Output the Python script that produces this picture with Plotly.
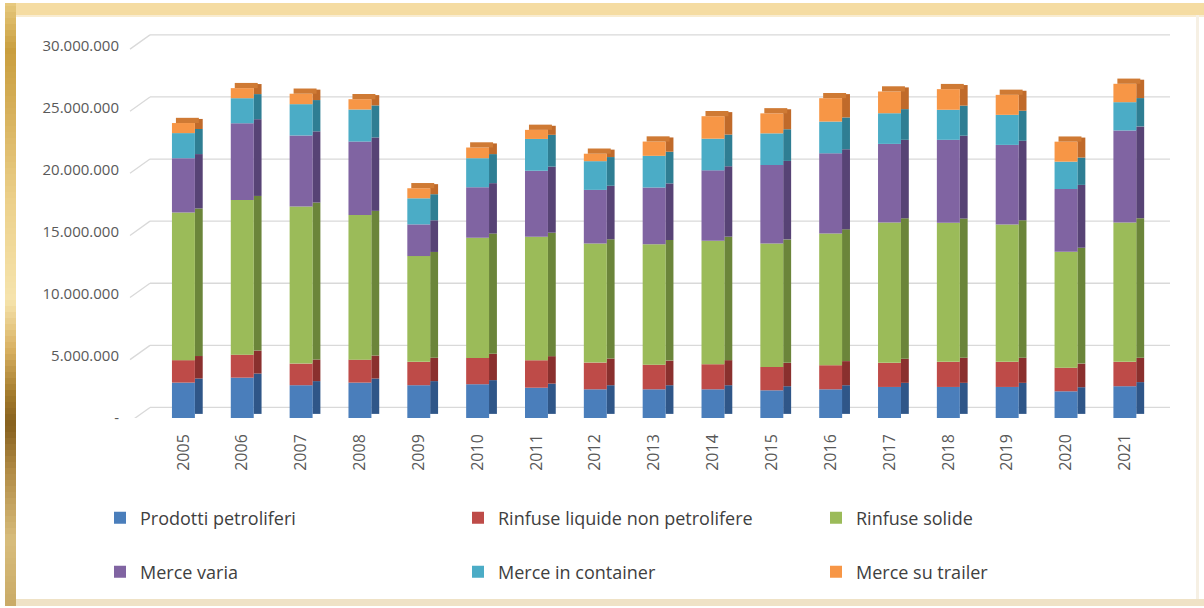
import plotly.graph_objects as go

# ---------------- data (tonnes) ----------------
years = [str(y) for y in range(2005, 2022)]

prodotti_petroliferi = [2850000, 3250000, 2640000, 2850000, 2640000, 2720000, 2440000, 2310000, 2310000,
                        2310000, 2230000, 2310000, 2500000, 2500000, 2500000, 2150000, 2560000]
rinfuse_liquide = [1810000, 1850000, 1740000, 1850000, 1880000, 2120000, 2210000, 2150000, 1980000,
                   2020000, 1880000, 1940000, 1940000, 2020000, 2020000, 1900000, 1960000]
rinfuse_solide = [11880000, 12450000, 12640000, 11650000, 8520000, 9680000, 9940000, 9600000, 9710000,
                  9940000, 9940000, 10610000, 11310000, 11210000, 11070000, 9330000, 11230000]
merce_varia = [4380000, 6180000, 5730000, 5910000, 2550000, 4060000, 5320000, 4310000, 4560000,
               5670000, 6320000, 6450000, 6320000, 6670000, 6400000, 5060000, 7400000]
merce_container = [2020000, 2020000, 2520000, 2580000, 2100000, 2340000, 2560000, 2310000, 2550000,
                   2550000, 2550000, 2560000, 2470000, 2420000, 2420000, 2200000, 2280000]
merce_trailer = [810000, 810000, 840000, 830000, 810000, 860000, 730000, 600000, 1150000,
                 1810000, 1610000, 1880000, 1750000, 1660000, 1610000, 1610000, 1480000]

series_names = ["Prodotti petroliferi", "Rinfuse liquide non petrolifere", "Rinfuse solide",
                "Merce varia", "Merce in container", "Merce su trailer"]
series_values = [prodotti_petroliferi, rinfuse_liquide, rinfuse_solide,
                 merce_varia, merce_container, merce_trailer]
front_colors = ["#4a7ebb", "#be4b48", "#9bbb59", "#8064a2", "#4bacc6", "#f79646"]
side_colors = ["#2f5688", "#8a302e", "#6b853a", "#574375", "#2f7e93", "#c06a2a"]
top_color = "#cf7a34"

ytick_vals = [0, 5000000, 10000000, 15000000, 20000000, 25000000, 30000000]
ytick_text = ["-", "5.000.000", "10.000.000", "15.000.000", "20.000.000", "25.000.000", "30.000.000"]

# ---------------- geometry helpers ----------------
W, H = 1204, 608
L, R, T, B = 154, 35, 33, 190
PW, PH = W - L - R, H - T - B
YMAX = 31.0e6
FRONT_W = 0.39
SIDE_W = 0.135
SIDE_SHIFT = 0.33e6


def px(x):
    return (x - L) / PW


def py(y):
    return (H - B - y) / PH


fig = go.Figure()

cum = [0] * len(years)
for i, (name, vals) in enumerate(zip(series_names, series_values)):
    legend = "legend" if i < 3 else "legend2"
    # side face (darker, slightly raised to suggest depth)
    fig.add_trace(go.Bar(
        x=years, y=vals, base=[c + SIDE_SHIFT for c in cum],
        width=SIDE_W, offset=FRONT_W / 2 - 0.002,
        marker=dict(color=side_colors[i], line=dict(width=0)),
        showlegend=False, hoverinfo="skip", legend=legend,
    ))
    # front face
    fig.add_trace(go.Bar(
        x=years, y=vals, base=list(cum), name=name,
        width=FRONT_W, offset=-FRONT_W / 2,
        marker=dict(color=front_colors[i], line=dict(width=0)),
        legend=legend,
    ))
    cum = [c + v for c, v in zip(cum, vals)]

# top face of each column
fig.add_trace(go.Bar(
    x=years, y=[0.42e6] * len(years), base=cum,
    width=FRONT_W, offset=-FRONT_W / 2 + SIDE_W / 2,
    marker=dict(color=top_color, line=dict(width=0)),
    showlegend=False, hoverinfo="skip",
))

shapes = []
# gridlines on the "back wall" plus the perspective slant at the left
for v in ytick_vals:
    yb = v + 0.85e6
    shapes.append(dict(type="line", xref="paper", yref="y", x0=px(150), x1=px(1170), y0=yb, y1=yb,
                       line=dict(color="#d9d9d9", width=1.3), layer="below"))
    shapes.append(dict(type="line", xref="paper", yref="y", x0=px(130), x1=px(150), y0=v - 0.3e6, y1=yb,
                       line=dict(color="#d9d9d9", width=1.3), layer="below"))

# decorative golden frame
def lerp(c1, c2, t):
    a = [int(c1[k:k + 2], 16) for k in (1, 3, 5)]
    b = [int(c2[k:k + 2], 16) for k in (1, 3, 5)]
    return "#%02x%02x%02x" % tuple(round(a[j] + (b[j] - a[j]) * t) for j in range(3))


stops = [(0, "#e9cc82"), (50, "#c99e3e"), (110, "#d6b05a"), (200, "#ecd08a"), (300, "#f6e4ad"),
         (350, "#d8b060"), (395, "#a27a2c"), (425, "#86601e"), (470, "#b08a44"), (540, "#d8bd7c"),
         (608, "#c9aa66")]
step = 6
for y0 in range(0, H, step):
    yc = y0 + step / 2
    for (a, ca), (b, cb) in zip(stops[:-1], stops[1:]):
        if a <= yc <= b:
            col = lerp(ca, cb, (yc - a) / (b - a))
            break
    shapes.append(dict(type="rect", xref="paper", yref="paper", x0=px(5), x1=px(16),
                       y0=py(min(y0 + step, 605)), y1=py(max(y0, 3)), fillcolor=col,
                       line=dict(width=0), layer="below"))
# top band
shapes.append(dict(type="rect", xref="paper", yref="paper", x0=px(16), x1=px(1204), y0=py(15), y1=py(3),
                   fillcolor="#f5dca2", line=dict(width=0), layer="below"))
shapes.append(dict(type="rect", xref="paper", yref="paper", x0=px(16), x1=px(1204), y0=py(17), y1=py(15),
                   fillcolor="#f9ecd0", line=dict(width=0), layer="below"))
# bottom band
shapes.append(dict(type="rect", xref="paper", yref="paper", x0=px(16), x1=px(1204), y0=py(606), y1=py(599),
                   fillcolor="#efe2c6", line=dict(width=0), layer="below"))
# right faint edge
shapes.append(dict(type="rect", xref="paper", yref="paper", x0=px(1196), x1=px(1199), y0=py(599), y1=py(15),
                   fillcolor="#f6f0e4", line=dict(width=0), layer="below"))

font_family = "Open Sans, Liberation Sans, Arial, sans-serif"
legend_common = dict(
    orientation="h", xanchor="left", yanchor="middle",
    x=px(100), entrywidth=313, entrywidthmode="pixels",
    font=dict(family=font_family, size=18, color="#404040"),
    bgcolor="rgba(0,0,0,0)", itemsizing="constant", traceorder="normal",
)

fig.update_layout(
    width=W, height=H,
    margin=dict(l=L, r=R, t=T, b=B, pad=0, autoexpand=False),
    paper_bgcolor="white", plot_bgcolor="rgba(0,0,0,0)",
    barmode="overlay",
    font=dict(family=font_family, color="#595959"),
    shapes=shapes,
    showlegend=True,
    legend=dict(**legend_common, y=py(518)),
    legend2=dict(**legend_common, y=py(572)),
    xaxis=dict(type="category", categoryorder="array", categoryarray=years,
               range=[-0.5, 16.75], showgrid=False, showline=False, zeroline=False,
               tickangle=-90, ticks="", ticklabelstandoff=12, automargin=False,
               tickfont=dict(family=font_family, size=16, color="#595959")),
    yaxis=dict(range=[0, YMAX], tickvals=ytick_vals, ticktext=ytick_text,
               showgrid=False, zeroline=False, showline=False, ticks="",
               ticklabelstandoff=34, automargin=False,
               tickfont=dict(family=font_family, size=15, color="#595959")),
)

fig.write_html("out.html", config={"displayModeBar": False},
               post_script="document.body.style.margin='0px';")
